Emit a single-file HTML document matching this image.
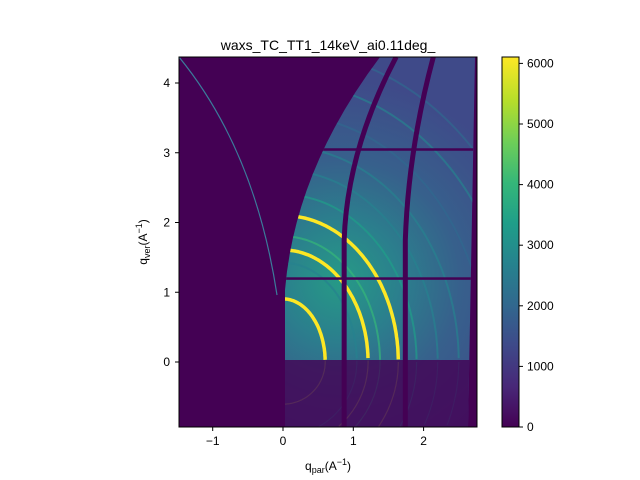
<!DOCTYPE html>
<html><head><meta charset="utf-8"><style>
html,body{margin:0;padding:0;background:#fff;overflow:hidden;width:640px;height:480px;}
svg{display:block;}
svg text{font-family:"Liberation Sans","DejaVu Sans",sans-serif;fill:#000;}
</style></head><body>
<svg id="chart" width="640" height="480" viewBox="0 0 640 480" xmlns="http://www.w3.org/2000/svg">
<defs>
<linearGradient id="vir" x1="0" y1="1" x2="0" y2="0">
<stop offset="0" stop-color="#440154"/><stop offset="0.11" stop-color="#482878"/><stop offset="0.22" stop-color="#3e4989"/><stop offset="0.33" stop-color="#31688e"/><stop offset="0.44" stop-color="#26828e"/><stop offset="0.55" stop-color="#1f9e89"/><stop offset="0.66" stop-color="#35b779"/><stop offset="0.77" stop-color="#6ece58"/><stop offset="0.88" stop-color="#b5de2b"/><stop offset="1" stop-color="#fde725"/>
</linearGradient>
<radialGradient id="glow" cx="340" cy="280" r="200" gradientUnits="userSpaceOnUse">
<stop offset="0" stop-color="#269a86"/><stop offset="0.3" stop-color="#2b7f8d"/><stop offset="0.6" stop-color="#37608c"/><stop offset="1" stop-color="#3f4a89"/>
</radialGradient>
<clipPath id="plotclip"><rect x="179" y="57" width="298" height="370"/></clipPath>
<clipPath id="detclip"><path d="M380,57 L475,57 L468,427 L285,427 L285,290 Q295,170 380,57 Z"/></clipPath>
</defs>
<text x="328" y="50" font-size="14" text-anchor="middle">waxs_TC_TT1_14keV_ai0.11deg_</text>
<rect x="179" y="57" width="298" height="370" fill="#440154"/>
<g id="det" clip-path="url(#plotclip)"></g>
<rect x="179" y="57" width="298" height="370" fill="none" stroke="#000" stroke-width="1"/>
<g id="xticks"></g><g id="yticks"></g>
<text x="328" y="470" font-size="12" text-anchor="middle">q<tspan font-size="9" dy="3">par</tspan><tspan dy="-3">(A</tspan><tspan font-size="9" dy="-5">−1</tspan><tspan dy="5">)</tspan></text>
<text transform="translate(147,242) rotate(-90)" font-size="12" text-anchor="middle">q<tspan font-size="9" dy="3">ver</tspan><tspan dy="-3">(A</tspan><tspan font-size="9" dy="-5">−1</tspan><tspan dy="5">)</tspan></text>
<rect x="502" y="57" width="17" height="370" fill="url(#vir)" stroke="#000" stroke-width="1"/>
<g id="cticks"></g>
</svg>
<script>
const xTicks=[-1,0,1,2];
const yTicks=[0,1,2,3,4];
const cTicks=[0,1000,2000,3000,4000,5000,6000];
const ringQ=[0.6,1.05,1.21,1.38,1.64,1.9,2.2,2.5,2.9,3.3,3.7];
const ringI=[6000,3000,6000,4200,6000,3400,2400,2700,2200,2400,2000];
const gapX=[0.87,1.74];
const gapY=[1.2,3.05];
const NS="http://www.w3.org/2000/svg";
const X=q=>283+q*70.3, Y=q=>362-q*69.75, C=v=>427-v*0.0606;
const vir=["#440154","#482878","#3e4989","#31688e","#26828e","#1f9e89","#35b779","#6ece58","#b5de2b","#fde725"];
function col(v){let t=Math.max(0,Math.min(1,v/6100))*9;return vir[Math.round(t)];}
function mk(tag,attrs,parent){const e=document.createElementNS(NS,tag);for(const k in attrs)e.setAttribute(k,attrs[k]);parent.appendChild(e);return e;}
function arcPts(rx,ry,y0,y1){const cx=X(0),cy=Y(0);let pts=[];
  for(let a=-Math.PI/2;a<=Math.PI/2+1e-9;a+=Math.PI/180){const x=cx+rx*Math.cos(a),y=cy+ry*Math.sin(a);
    if(y>=y0&&y<=y1&&x<=480)pts.push(x.toFixed(1)+','+y.toFixed(1));}
  return pts.join(' ');}
const det=document.getElementById('det');
const dg=mk('g',{'clip-path':'url(#detclip)'},det);


mk('rect',{x:179,y:57,width:298,height:370,fill:'url(#glow)'},dg);
const lowShade=mk('rect',{x:179,y:360,width:298,height:67,fill:'#440154',opacity:0.8},dg);


ringQ.forEach((q,i)=>{
  const rx=X(q)-X(0), ry=(Y(0)-Y(q))*1.15+15, big=ringI[i]>5000;
  const e=mk('polyline',{points:arcPts(rx,ry,57,360),fill:'none',stroke:col(ringI[i]),'stroke-width':big?3.5:2,opacity:big?1:0.7},dg);
  
  
  const l=mk('polyline',{points:arcPts(rx,rx,360,427),fill:'none',stroke:col(ringI[i]),'stroke-width':1.2,opacity:0.1},dg);
  
  
});
gapY.forEach(q=>{const r=mk('rect',{x:179,y:Y(q)-1,width:298,height:2.5,fill:'#440154'},dg);

});
gapX.forEach(q=>{const x=X(q);const p=mk('path',{d:`M${x},427 L${x},240 Q${x+3},150 ${x+(q<1?52:28)},57`,stroke:'#440154','stroke-width':5,fill:'none'},dg);

});
const arc=mk('path',{d:'M179,57 Q255,150 277,295',stroke:'#3b7c9a','stroke-width':1.2,fill:'none'},det);


const xt=document.getElementById('xticks');
xTicks.forEach(v=>{mk('line',{x1:X(v),x2:X(v),y1:427,y2:431,stroke:'#000'},xt);
const t=mk('text',{x:X(v),y:445,'font-size':12,'text-anchor':'middle'},xt);t.textContent=v<0?'−'+(-v):v;

});
const yt=document.getElementById('yticks');
yTicks.forEach(v=>{mk('line',{x1:175,x2:179,y1:Y(v),y2:Y(v),stroke:'#000'},yt);
const t=mk('text',{x:170,y:Y(v)+4,'font-size':12,'text-anchor':'end'},yt);t.textContent=v;

});
const ct=document.getElementById('cticks');
cTicks.forEach(v=>{mk('line',{x1:519,x2:523,y1:C(v),y2:C(v),stroke:'#000'},ct);
const t=mk('text',{x:527,y:C(v)+4,'font-size':12},ct);t.textContent=v;

});
</script>
</body></html>
